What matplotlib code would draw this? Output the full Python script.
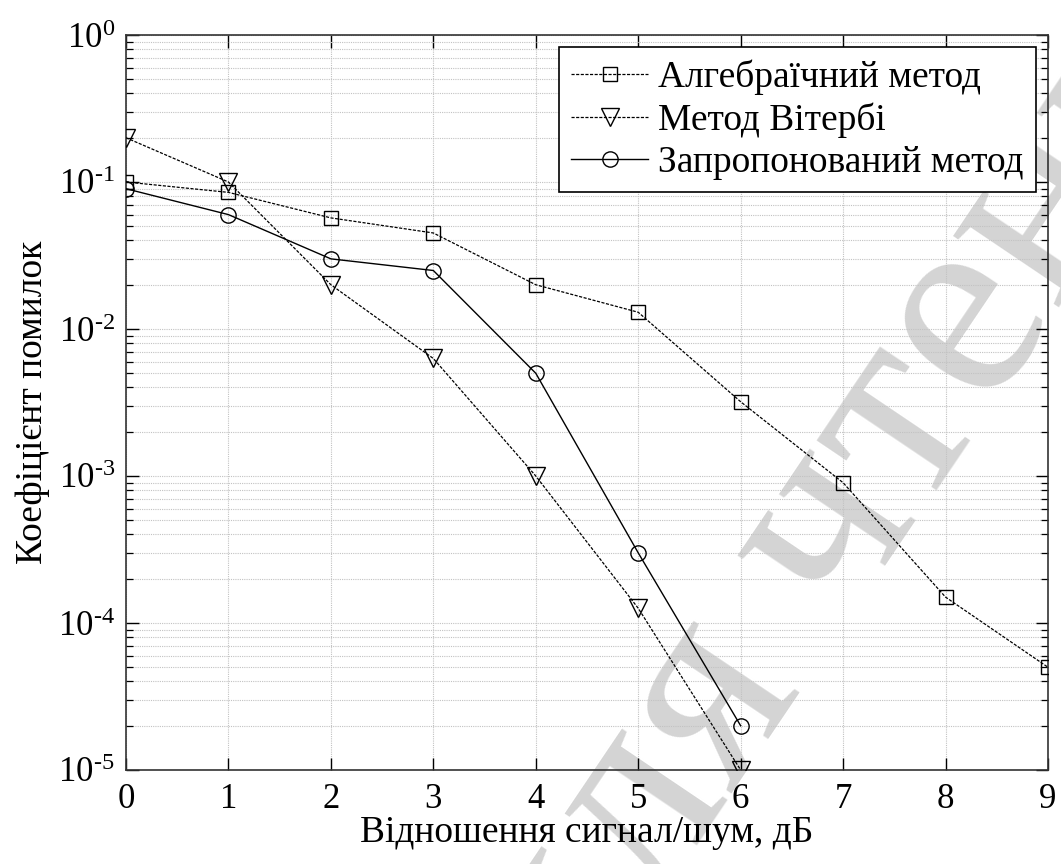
import math
import matplotlib
matplotlib.use("Agg")
import matplotlib.pyplot as plt
from matplotlib.ticker import LogLocator, FuncFormatter, NullFormatter

plt.rcParams['font.family'] = ['Liberation Serif', 'DejaVu Serif']
plt.rcParams['mathtext.fontset'] = 'custom'
plt.rcParams['mathtext.rm'] = 'Liberation Serif'
plt.rcParams['mathtext.it'] = 'Liberation Serif:italic'

# Data
snr = [0, 1, 2, 3, 4, 5, 6, 7, 8, 9]
algebraic = [0.1, 0.085, 0.057, 0.045, 0.02, 0.013, 0.0032, 0.0009, 0.00015, 0.00005]
snr_v = [0, 1, 2, 3, 4, 5, 6]
viterbi = [0.2, 0.1, 0.02, 0.0063, 0.001, 0.000126, 0.00001]
snr_p = [0, 1, 2, 3, 4, 5, 6]
proposed = [0.09, 0.06, 0.03, 0.025, 0.005, 0.0003, 0.00002]

labels = ["Алгебраїчний метод", "Метод Вітербі", "Запропонований метод"]
xlabel = "Відношення сигнал/шум, дБ"
ylabel = "Коефіцієнт помилок"
watermark = "для чтения"

fig = plt.figure(figsize=(10.61, 8.64), dpi=100)
ax = fig.add_axes([126/1061, 1-770/864, (1048-126)/1061, (770-35)/864])

dash = (0, (2.5, 1.2))
ax.plot(snr, algebraic, color='black', lw=0.9, linestyle=dash, marker='s',
        markersize=10, markerfacecolor='none', markeredgewidth=1.0, label=labels[0], zorder=3)
ax.plot(snr_v, viterbi, color='black', lw=0.9, linestyle=dash, marker='v',
        markersize=13, markerfacecolor='none', markeredgewidth=1.0, label=labels[1], zorder=3)
ax.plot(snr_p, proposed, color='black', lw=1.0, linestyle='-', marker='o',
        markersize=11, markerfacecolor='none', markeredgewidth=1.0, label=labels[2], zorder=3)

ax.set_yscale('log')
ax.set_xlim(0, 9)
ax.set_ylim(1e-5, 1)
ax.set_xticks(range(0, 10))
ax.yaxis.set_major_locator(LogLocator(base=10, numticks=10))
ax.yaxis.set_minor_locator(LogLocator(base=10, subs=range(2, 10), numticks=50))
ax.yaxis.set_minor_formatter(NullFormatter())

def fmt(v, pos):
    e = int(round(math.log10(v)))
    s = str(e).replace('-', '\u2010')
    return r"$\mathregular{10^{%s}}$" % s
ax.yaxis.set_major_formatter(FuncFormatter(fmt))

ax.tick_params(axis='both', which='both', direction='in', top=True, right=True,
               labelsize=25, colors='black')
ax.tick_params(axis='both', which='major', length=9, width=1.0, pad=8)
ax.tick_params(axis='y', which='minor', length=5, width=0.9)
ax.tick_params(axis='x', which='major', pad=9)

ax.grid(True, which='major', color='#c2c2c2', linestyle=(0, (1, 1)), lw=0.8)
ax.grid(True, which='minor', axis='y', color='#c2c2c2', linestyle=(0, (1, 1)), lw=0.8)

for s in ax.spines.values():
    s.set_linewidth(1.2)
    s.set_color('#333333')

ax.set_xlabel(xlabel, fontsize=27, labelpad=0)
ax.set_ylabel(ylabel, fontsize=27, labelpad=6)

leg = ax.legend(loc='upper right', fontsize=27, frameon=True, fancybox=False,
                edgecolor='black', framealpha=1, borderpad=0.32, labelspacing=0.2,
                handlelength=2.05, handletextpad=0.27, borderaxespad=0.33)
leg.get_frame().set_linewidth(1.2)
leg.set_zorder(5)

ax.text(880/1061, 1-455/864, watermark, transform=fig.transFigure, fontsize=200,
        color='#d4d4d4', rotation=56, ha='center', va='center', rotation_mode='anchor',
        zorder=1, clip_on=False)

fig.savefig('out.png', dpi=100)
